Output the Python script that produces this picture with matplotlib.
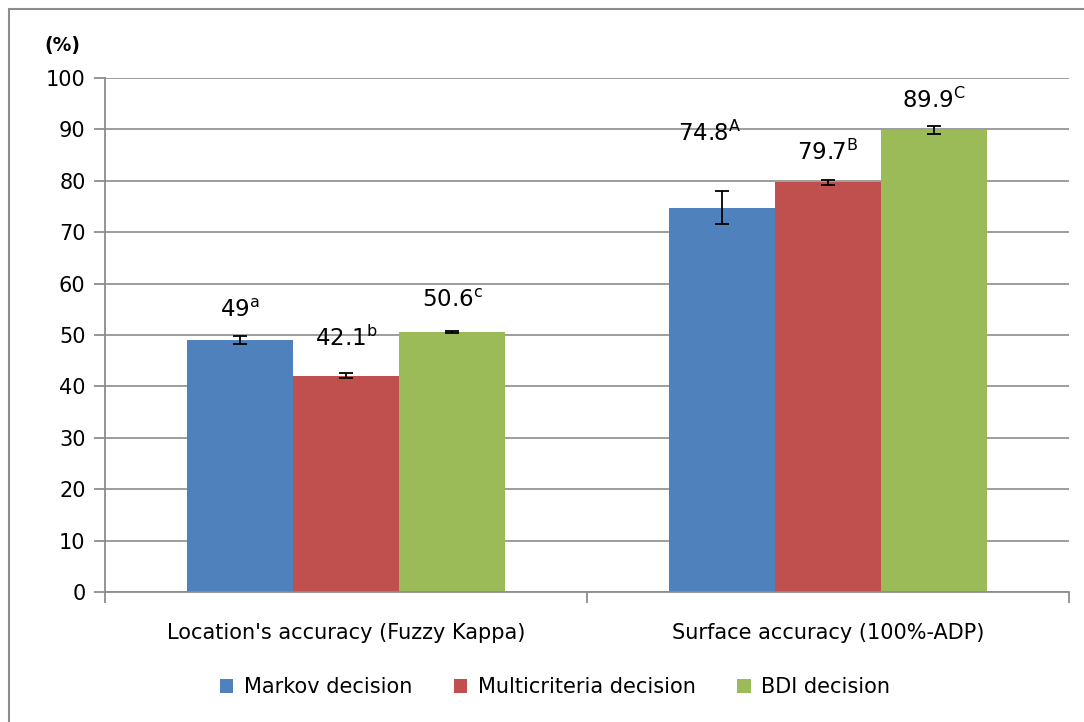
import numpy as np
import matplotlib.pyplot as plt
from matplotlib.patches import Rectangle

categories = ["Location's accuracy (Fuzzy Kappa)", "Surface accuracy (100%-ADP)"]
series = ["Markov decision", "Multicriteria decision", "BDI decision"]
values = [[49.0, 74.8], [42.1, 79.7], [50.6, 89.9]]
errors = [[0.8, 3.3], [0.45, 0.45], [0.2, 0.8]]
labels = [["49$^{\\mathrm{a}}$", "74.8$^{\\mathrm{A}}$"],
          ["42.1$^{\\mathrm{b}}$", "79.7$^{\\mathrm{B}}$"],
          ["50.6$^{\\mathrm{c}}$", "89.9$^{\\mathrm{C}}$"]]
label_y = [[54.7, 89.3], [49.4, 85.6], [56.8, 95.7]]
label_dx = [[0.0, -0.025], [0.0, 0.0], [0.0, 0.0]]
colors = ['#4F81BD', '#C0504D', '#9BBB59']

plt.rcParams['font.family'] = ['DejaVu Sans']
plt.rcParams['mathtext.fontset'] = 'dejavusans'

fig = plt.figure(figsize=(10.84, 7.22), dpi=100)
fig.patches.append(Rectangle((9 / 1084, -0.1), 1.2, 1.1 - 9 / 722,
                             transform=fig.transFigure, fill=False,
                             edgecolor='#8c8c8c', linewidth=1.5))
ax = fig.add_axes([105 / 1084, 1 - 592 / 722, 964 / 1084, 514 / 722])

x = np.arange(len(categories))
w = 0.22
for i in range(3):
    xs = x + (i - 1) * w
    ax.bar(xs, values[i], w, color=colors[i], label=series[i], zorder=2)
    ax.errorbar(xs, values[i], yerr=errors[i], fmt='none', ecolor='black',
                elinewidth=1.3, capsize=5, capthick=1.3, zorder=3)
    for j in range(2):
        ax.text(xs[j] + label_dx[i][j], label_y[i][j], labels[i][j],
                ha='center', va='center', fontsize=16.5, color='black')

ax.set_xlim(-0.5, 1.5)
ax.set_ylim(0, 100)
ax.set_yticks(range(0, 101, 10))
ax.yaxis.grid(True, color='#8c8c8c', linewidth=1.2, zorder=0)
ax.set_axisbelow(True)
ax.set_xticks([-0.5, 0.5, 1.5])
ax.set_xticklabels([])
ax.set_xticks(x, minor=True)
ax.set_xticklabels(categories, minor=True, fontsize=15)
ax.tick_params(axis='x', which='minor', length=0, pad=22)
ax.tick_params(axis='x', which='major', length=8, width=1.3, color='#8c8c8c')
ax.tick_params(axis='y', length=8, width=1.3, color='#8c8c8c', labelsize=15, pad=6)
for s in ['top', 'right']:
    ax.spines[s].set_visible(False)
for s in ['left', 'bottom']:
    ax.spines[s].set_color('#8c8c8c')
    ax.spines[s].set_linewidth(1.3)

fig.text(62 / 1084, 1 - 45 / 722, '(%)', fontsize=13.5, fontweight='bold',
         ha='center', va='center')

fig.legend(loc='center', bbox_to_anchor=(555 / 1084, 1 - 687 / 722), ncol=3,
           frameon=False, fontsize=15, handlelength=0.65, handleheight=0.65,
           columnspacing=2.0, handletextpad=0.5)

fig.savefig('out.png', dpi=100)
